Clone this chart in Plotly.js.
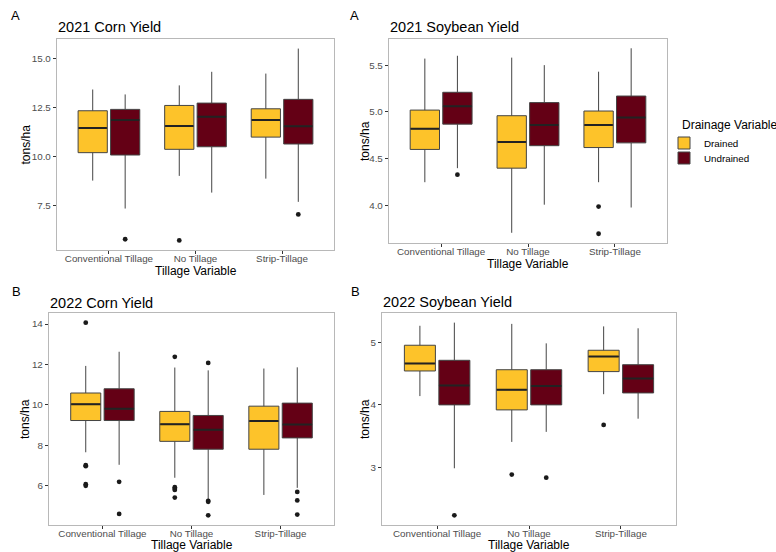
<!DOCTYPE html>
<html><head><meta charset="utf-8">
<script src="https://cdn.plot.ly/plotly-3.0.1.min.js"></script>
<style>html,body{margin:0;padding:0;background:#fff}#chart{width:776px;height:552px}</style>
</head><body><div id="chart"></div>
<script>
// ---------- data ----------
const categories = ['Conventional Tillage', 'No Tillage', 'Strip-Tillage'];
const drainageLevels = ['Drained', 'Undrained'];

// 2021 Corn Yield (tons/ha)
const corn2021DrainedLow = [8.78, 9.02, 8.88];
const corn2021DrainedQ1 = [10.20, 10.37, 10.99];
const corn2021DrainedMed = [11.45, 11.55, 11.86];
const corn2021DrainedQ3 = [12.33, 12.60, 12.43];
const corn2021DrainedHigh = [13.41, 13.62, 14.22];
const corn2021DrainedOutCat = ['No Tillage'];
const corn2021DrainedOutVal = [5.74];
const corn2021UndrainedLow = [7.36, 8.17, 7.70];
const corn2021UndrainedQ1 = [10.08, 10.50, 10.64];
const corn2021UndrainedMed = [11.86, 12.03, 11.54];
const corn2021UndrainedQ3 = [12.40, 12.72, 12.91];
const corn2021UndrainedHigh = [13.16, 14.31, 15.49];
const corn2021UndrainedOutCat = ['Conventional Tillage', 'Strip-Tillage'];
const corn2021UndrainedOutVal = [5.80, 7.06];
const corn2021Ticks = [7.5, 10, 12.5, 15];

// 2021 Soybean Yield
const soy2021DrainedLow = [4.25, 3.71, 4.25];
const soy2021DrainedQ1 = [4.60, 4.40, 4.62];
const soy2021DrainedMed = [4.82, 4.68, 4.86];
const soy2021DrainedQ3 = [5.02, 4.96, 5.01];
const soy2021DrainedHigh = [5.57, 5.58, 5.43];
const soy2021DrainedOutCat = ['Strip-Tillage', 'Strip-Tillage'];
const soy2021DrainedOutVal = [3.99, 3.70];
const soy2021UndrainedLow = [4.40, 4.01, 3.98];
const soy2021UndrainedQ1 = [4.87, 4.64, 4.67];
const soy2021UndrainedMed = [5.06, 4.86, 4.94];
const soy2021UndrainedQ3 = [5.21, 5.10, 5.17];
const soy2021UndrainedHigh = [5.60, 5.50, 5.68];
const soy2021UndrainedOutCat = ['Conventional Tillage'];
const soy2021UndrainedOutVal = [4.33];
const soy2021Ticks = [4.0, 4.5, 5.0, 5.5];

// 2022 Corn Yield
const corn2022DrainedLow = [7.66, 6.40, 5.55];
const corn2022DrainedQ1 = [9.23, 8.20, 7.81];
const corn2022DrainedMed = [10.04, 9.05, 9.20];
const corn2022DrainedQ3 = [10.59, 9.68, 9.94];
const corn2022DrainedHigh = [11.93, 11.85, 11.80];
const corn2022DrainedOutCat = ['Conventional Tillage', 'Conventional Tillage', 'Conventional Tillage', 'Conventional Tillage', 'Conventional Tillage',
                               'No Tillage', 'No Tillage', 'No Tillage', 'No Tillage', 'No Tillage'];
const corn2022DrainedOutVal = [14.07, 7.02, 6.97, 6.08, 6.00, 12.38, 5.93, 5.86, 5.80, 5.42];
const corn2022UndrainedLow = [7.04, 5.34, 5.90];
const corn2022UndrainedQ1 = [9.23, 7.81, 8.37];
const corn2022UndrainedMed = [9.81, 8.77, 9.03];
const corn2022UndrainedQ3 = [10.80, 9.48, 10.09];
const corn2022UndrainedHigh = [12.63, 11.71, 11.86];
const corn2022UndrainedOutCat = ['Conventional Tillage', 'Conventional Tillage', 'No Tillage', 'No Tillage', 'No Tillage', 'No Tillage',
                                 'Strip-Tillage', 'Strip-Tillage', 'Strip-Tillage'];
const corn2022UndrainedOutVal = [6.20, 4.61, 12.08, 5.26, 5.21, 4.54, 5.70, 5.28, 4.58];
const corn2022Ticks = [6, 8, 10, 12, 14];

// 2022 Soybean Yield
const soy2022DrainedLow = [4.14, 3.41, 4.17];
const soy2022DrainedQ1 = [4.54, 3.92, 4.53];
const soy2022DrainedMed = [4.66, 4.24, 4.77];
const soy2022DrainedQ3 = [4.95, 4.56, 4.87];
const soy2022DrainedHigh = [5.26, 5.29, 5.25];
const soy2022DrainedOutCat = ['No Tillage', 'Strip-Tillage'];
const soy2022DrainedOutVal = [2.89, 3.68];
const soy2022UndrainedLow = [2.99, 3.57, 3.78];
const soy2022UndrainedQ1 = [4.00, 4.00, 4.19];
const soy2022UndrainedMed = [4.31, 4.30, 4.42];
const soy2022UndrainedQ3 = [4.71, 4.56, 4.64];
const soy2022UndrainedHigh = [5.31, 4.98, 5.22];
const soy2022UndrainedOutCat = ['Conventional Tillage', 'No Tillage'];
const soy2022UndrainedOutVal = [2.24, 2.84];
const soy2022Ticks = [3, 4, 5];

// ---------- styling / layout ----------
const W = 776, H = 552;
const colors = {Drained: '#FDC32A', Undrained: '#640015'};
const dodge = 0.1875, boxW = 0.3375;
const font = 'Liberation Sans, Arial, sans-serif';

const panels = [
  {title: '2021 Corn Yield', tag: 'A', px: [57, 334], py: [39, 250], ticks: corn2021Ticks, fmt: '.1f',
   series: {
     Drained: [corn2021DrainedLow, corn2021DrainedQ1, corn2021DrainedMed, corn2021DrainedQ3, corn2021DrainedHigh, corn2021DrainedOutCat, corn2021DrainedOutVal],
     Undrained: [corn2021UndrainedLow, corn2021UndrainedQ1, corn2021UndrainedMed, corn2021UndrainedQ3, corn2021UndrainedHigh, corn2021UndrainedOutCat, corn2021UndrainedOutVal]},
   tagPos: [15, 15], titleY: 27, xtY: 271, ytX: 25},
  {title: '2021 Soybean Yield', tag: 'A', px: [389, 667], py: [39, 243], ticks: soy2021Ticks, fmt: '.1f',
   series: {
     Drained: [soy2021DrainedLow, soy2021DrainedQ1, soy2021DrainedMed, soy2021DrainedQ3, soy2021DrainedHigh, soy2021DrainedOutCat, soy2021DrainedOutVal],
     Undrained: [soy2021UndrainedLow, soy2021UndrainedQ1, soy2021UndrainedMed, soy2021UndrainedQ3, soy2021UndrainedHigh, soy2021UndrainedOutCat, soy2021UndrainedOutVal]},
   tagPos: [354, 15], titleY: 27, xtY: 264, ytX: 365},
  {title: '2022 Corn Yield', tag: 'B', px: [49, 334], py: [313, 525], ticks: corn2022Ticks, fmt: 'd',
   series: {
     Drained: [corn2022DrainedLow, corn2022DrainedQ1, corn2022DrainedMed, corn2022DrainedQ3, corn2022DrainedHigh, corn2022DrainedOutCat, corn2022DrainedOutVal],
     Undrained: [corn2022UndrainedLow, corn2022UndrainedQ1, corn2022UndrainedMed, corn2022UndrainedQ3, corn2022UndrainedHigh, corn2022UndrainedOutCat, corn2022UndrainedOutVal]},
   tagPos: [16, 291], titleY: 303, xtY: 545, ytX: 25},
  {title: '2022 Soybean Yield', tag: 'B', px: [382, 676], py: [313, 525], ticks: soy2022Ticks, fmt: 'd',
   series: {
     Drained: [soy2022DrainedLow, soy2022DrainedQ1, soy2022DrainedMed, soy2022DrainedQ3, soy2022DrainedHigh, soy2022DrainedOutCat, soy2022DrainedOutVal],
     Undrained: [soy2022UndrainedLow, soy2022UndrainedQ1, soy2022UndrainedMed, soy2022UndrainedQ3, soy2022UndrainedHigh, soy2022UndrainedOutCat, soy2022UndrainedOutVal]},
   tagPos: [355, 291], titleY: 302, xtY: 545, ytX: 365}
];

const fx = p => p / W;
const fy = p => 1 - p / H;

const legendFont = {size: 9.8, color: '#000', family: font};
const traces = [];
const layout = {
  width: W, height: H, margin: {l: 0, r: 0, t: 0, b: 0},
  paper_bgcolor: '#ffffff', plot_bgcolor: '#ffffff',
  font: {family: font, color: '#000'},
  boxmode: 'overlay',
  showlegend: true,
  legend: {x: fx(664), y: fy(143), xanchor: 'left', yanchor: 'middle',
           font: legendFont, bgcolor: 'rgba(0,0,0,0)'},
  legend2: {x: fx(664), y: fy(158), xanchor: 'left', yanchor: 'middle',
           font: legendFont, bgcolor: 'rgba(0,0,0,0)'},
  annotations: [
    {text: 'Drainage Variable', xref: 'paper', yref: 'paper', x: fx(680), y: fy(125), xanchor: 'left', yanchor: 'middle',
     showarrow: false, font: {size: 12, color: '#000'}}
  ]
};

panels.forEach((pn, k) => {
  const n = k === 0 ? '' : String(k + 1);
  const xa = 'x' + n, ya = 'y' + n;
  let all = [];
  drainageLevels.forEach((d, j) => {
    const [low, q1, med, q3, high, oc, ov] = pn.series[d];
    const off = j === 0 ? -dodge : dodge;
    const xs = categories.map((c, i) => i + off);
    all = all.concat(low, high, ov);
    traces.push({
      type: 'box', name: d, legendgroup: d, showlegend: k === 0, legend: j === 0 ? 'legend' : 'legend2',
      x: xs,
      lowerfence: low, q1: q1, median: med, q3: q3, upperfence: high,
      width: boxW, fillcolor: colors[d], line: {color: '#444444', width: 1},
      whiskerwidth: 0, boxpoints: false, hoverinfo: 'skip',
      xaxis: xa, yaxis: ya
    });
    // thicker median bar (ggplot draws the median line heavier)
    traces.push({
      type: 'box', name: d + ' median', showlegend: false,
      x: xs, lowerfence: med, q1: med, median: med, q3: med, upperfence: med,
      width: boxW * 0.97, fillcolor: 'rgba(0,0,0,0)', line: {color: '#222222', width: 2},
      whiskerwidth: 0, boxpoints: false, hoverinfo: 'skip',
      xaxis: xa, yaxis: ya
    });
    traces.push({
      type: 'scatter', mode: 'markers', showlegend: false, hoverinfo: 'skip',
      x: oc.map(c => categories.indexOf(c) + off), y: ov,
      marker: {size: 4.8, color: '#1a1a1a'},
      xaxis: xa, yaxis: ya
    });
  });
  const mn = Math.min(...all), mx = Math.max(...all), pad = (mx - mn) * 0.05;
  const axBase = {showgrid: false, zeroline: false, showline: true, mirror: true, linecolor: '#b8b8b8', linewidth: 1.2,
                  ticks: 'outside', ticklen: 3, tickwidth: 1, tickcolor: '#333333',
                  tickfont: {size: 9.8, color: '#4d4d4d', family: font}};
  layout['xaxis' + n] = Object.assign({}, axBase, {
    domain: [fx(pn.px[0]), fx(pn.px[1])], anchor: ya, range: [-0.6, 2.6],
    tickmode: 'array', tickvals: categories.map((c, i) => i), ticktext: categories,
    ticklabelstandoff: -4
  });
  layout['yaxis' + n] = Object.assign({}, axBase, {
    domain: [fy(pn.py[1]), fy(pn.py[0])], anchor: xa, range: [mn - pad, mx + pad],
    tickmode: 'array', tickvals: pn.ticks, tickformat: pn.fmt
  });
  const cx = (pn.px[0] + pn.px[1]) / 2, cy = (pn.py[0] + pn.py[1]) / 2;
  layout.annotations.push(
    {text: pn.tag, xref: 'paper', yref: 'paper', x: fx(pn.tagPos[0]), y: fy(pn.tagPos[1]), xanchor: 'center', yanchor: 'middle',
     showarrow: false, font: {size: 13, color: '#000'}},
    {text: pn.title, xref: 'paper', yref: 'paper', x: fx(pn.px[0] - 1), y: fy(pn.titleY), xanchor: 'left', yanchor: 'middle',
     showarrow: false, font: {size: 14.5, color: '#000'}},
    {text: 'Tillage Variable', xref: 'paper', yref: 'paper', x: fx(cx), y: fy(pn.xtY), xanchor: 'center', yanchor: 'middle',
     showarrow: false, font: {size: 12, color: '#000'}},
    {text: 'tons/ha', xref: 'paper', yref: 'paper', x: fx(pn.ytX), y: fy(cy), xanchor: 'center', yanchor: 'middle',
     textangle: -90, showarrow: false, font: {size: 12, color: '#000'}}
  );
});

Plotly.newPlot('chart', traces, layout, {staticPlot: true, displayModeBar: false});
</script>
</body></html>
